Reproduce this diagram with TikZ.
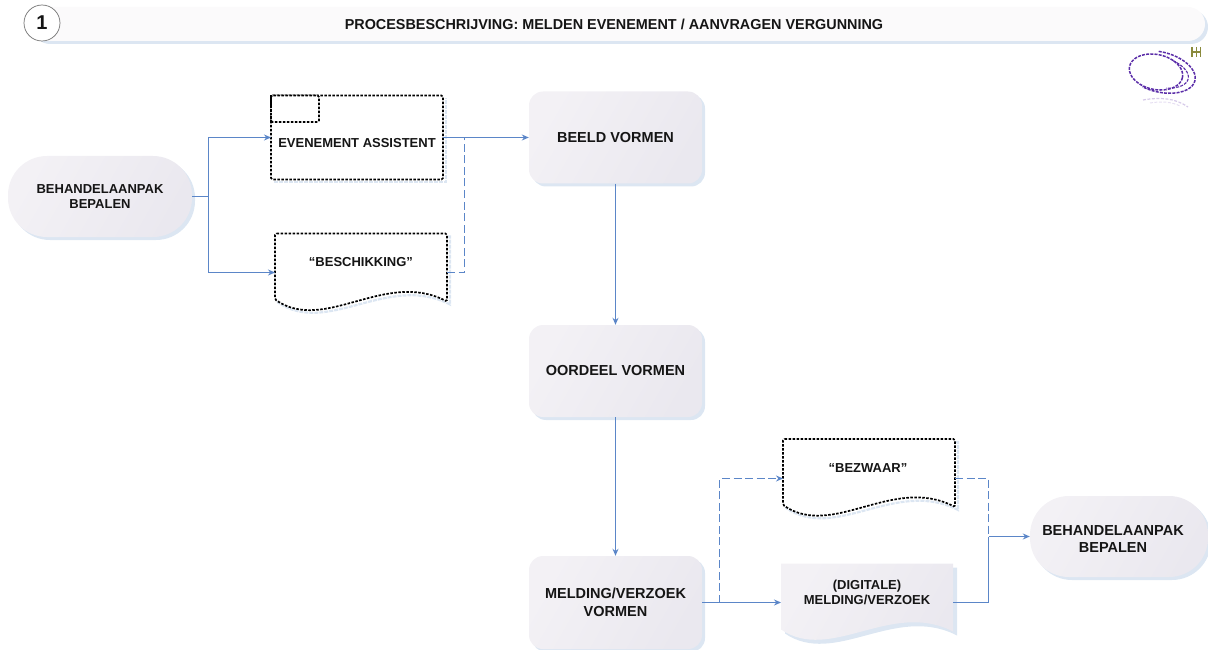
\documentclass[tikz,border=0pt]{standalone}
\usepackage{fontspec}
\setmainfont{Liberation Sans}
\usetikzlibrary{arrows.meta,shadows}
\definecolor{flowblue}{HTML}{5B86C8}
\definecolor{shadowblue}{HTML}{DCE6F2}
\definecolor{boxa}{HTML}{F3F1F5}
\definecolor{boxb}{HTML}{EAE8EF}
\definecolor{inkc}{HTML}{151515}
\definecolor{logoviolet}{HTML}{5A2CA8}
\definecolor{logoolive}{HTML}{8A8A3C}
\newcommand{\wavepath}{(0,0) -- (172,0) -- (172,68) .. controls (110,36) and (50,100) .. (0,66) -- cycle}
\tikzset{
  x=1pt,y=-1pt,
  softshadow/.style={general shadow={fill=shadowblue,shadow xshift=3pt,shadow yshift=-3pt}},
  labeltext/.style={font=\bfseries\fontsize{13}{15.5}\selectfont,text=inkc,align=center,inner sep=0pt},
  bigtext/.style={font=\bfseries\fontsize{14.5}{17.5}\selectfont,text=inkc,align=center},
  procbox/.style={bigtext,softshadow,left color=boxa,right color=boxb,shading angle=60,rounded corners=14pt,minimum width=173pt,minimum height=92pt,inner sep=0pt},
  pillbox/.style={procbox,rounded corners=39pt},
  anchorbox/.style={minimum width=172pt,inner sep=0pt,outer sep=0pt},
  dotline/.style={draw=black,line width=1.7pt,dash pattern=on 2.5pt off 1.5pt,fill=white},
  dotshade/.style={draw=shadowblue,line width=2.2pt,dash pattern=on 4pt off 1pt},
  flow/.style={draw=flowblue,line width=1.5pt},
  flowarrow/.style={flow,-{Stealth[length=7pt,width=6pt]}},
  flowdash/.style={draw=flowblue,line width=1.3pt,dash pattern=on 8pt off 3.5pt},
  flowdasharrow/.style={flowdash,-{Stealth[length=7pt,width=6pt]}},
  logoring/.style={draw=logoviolet,line width=1.5pt,dash pattern=on 3pt off 1.2pt},
}
\begin{document}
\begin{tikzpicture}
\clip (0,0) rectangle (1208,650);
% header
\node[softshadow,draw=none,minimum width=1175pt,minimum height=34pt,rounded corners=17pt,inner sep=0pt,left color=boxa!35,right color=boxa!35] (bar) at (617.5,24) {};
\node[font=\bfseries\fontsize{14.4}{16}\selectfont,text=inkc,inner sep=0pt] (title) at (614,24) {PROCESBESCHRIJVING: MELDEN EVENEMENT / AANVRAGEN VERGUNNING};
\node[circle,draw=black!55,line width=0.7pt,fill=white,minimum size=36pt,inner sep=0pt,text=inkc,font=\bfseries\fontsize{20}{22}\selectfont] (num) at (42,23) {1};

% process nodes
\node[pillbox,labeltext,minimum width=184pt,minimum height=81pt] (start) at (100,196.5) {BEHANDELAANPAK\\BEPALEN};
\node[procbox] (beeld) at (615.5,137.5) {BEELD VORMEN};
\node[procbox] (oordeel) at (615.5,371) {OORDEEL VORMEN};
\node[procbox,minimum height=93pt] (melding) at (615.5,602.5) {MELDING/VERZOEK\\VORMEN};
\node[pillbox,minimum width=178pt,minimum height=81pt] (einde) at (1119,536.5) {};
\node[bigtext,inner sep=0pt] (eindetxt) at (1113,539) {BEHANDELAANPAK\\BEPALEN};

% Evenement assistent
\node[anchorbox,minimum height=84pt] (even) at (357,137.5) {};
\draw[dotshade] (274,182) -- (446,182) -- (446,98);
\draw[dotline,rounded corners=1.5pt] (even.north west) rectangle (even.south east);
\draw[dotline,rounded corners=1.5pt] (even.north west) rectangle (319,122);
\draw[black,line width=2.4pt,dash pattern=on 2.5pt off 1pt] (even.north west) -- (271,122);
\node[labeltext] (eventxt) at (357,143) {EVENEMENT ASSISTENT};

% Beschikking
\node[anchorbox,minimum height=78pt] (besch) at (361,272.5) {};
\begin{scope}[shift={(besch.north west)}]
\draw[dotshade,shift={(3,3)}] \wavepath;
\draw[dotline,rounded corners=1.5pt] \wavepath;
\end{scope}
\node[labeltext] (beschtxt) at (361,262) {“BESCHIKKING”};

% Bezwaar
\node[anchorbox,minimum height=79pt] (bezw) at (869,478.5) {};
\begin{scope}[shift={(bezw.north west)}]
\draw[dotshade,shift={(3,3)}] \wavepath;
\draw[dotline,rounded corners=1.5pt] \wavepath;
\end{scope}
\node[labeltext] (bezwtxt) at (868,468) {“BEZWAAR”};

% Digitale melding
\node[anchorbox,minimum height=78pt] (digi) at (867,602.5) {};
\begin{scope}[shift={(digi.north west)}]
\fill[shadowblue,shift={(4,4)}] \wavepath;
\shade[left color=boxa,right color=boxb,shading angle=60] \wavepath;
\end{scope}
\node[labeltext] (digitxt) at (867,592.5) {(DIGITALE)\\MELDING/VERZOEK};

% connectors
\coordinate (splitA) at (208.5,196.5);
\coordinate (joinA) at (464.5,137.5);
\coordinate (splitB) at (719.5,602.5);
\coordinate (joinB) at (988.5,536.5);
\draw[flow] (start.east) -- (splitA);
\draw[flowarrow] (splitA) |- (even.west);
\draw[flowarrow] (splitA) |- (besch.west);
\draw[flowarrow] (even.east) -- (beeld.west);
\draw[flowdash] (besch.east) -| (joinA);
\draw[flowarrow] (beeld.south) -- (oordeel.north);
\draw[flowarrow] (oordeel.south) -- (melding.north);
\draw[flowarrow] (melding.east) -- (digi.west);
\draw[flowdasharrow] (splitB) |- (bezw.west);
\draw[flowdash] (bezw.east) -| (joinB);
\draw[flow] (digi.east) -| (joinB);
\draw[flowarrow] (joinB) -- (einde.west);

% logo
\draw[logoring] plot[smooth,domain=0:360,samples=50] ({1156+27*cos(\x)*cos(12)-17.5*sin(\x)*sin(12)},{72+27*cos(\x)*sin(12)+17.5*sin(\x)*cos(12)});
\draw[logoring] plot[smooth,domain=-100:112,samples=30] ({1160+36*cos(\x)*cos(14)-20*sin(\x)*sin(14)},{72+36*cos(\x)*sin(14)+20*sin(\x)*cos(14)});
\draw[logoring,line width=1.1pt] plot[smooth,domain=-70:70,samples=20] ({1160+29*cos(\x)*cos(14)-15*sin(\x)*sin(14)},{72+29*cos(\x)*sin(14)+15*sin(\x)*cos(14)});
\draw[logoviolet!25,line width=1.2pt,dash pattern=on 3pt off 1.5pt] (1143,100) .. controls (1160,97) and (1175,98) .. (1188,107);
\draw[logoviolet!15,line width=1pt,dash pattern=on 3pt off 1.5pt] (1150,103) .. controls (1162,101) and (1172,102) .. (1180,106);
\draw[logoolive,line width=1.3pt] (1192,47) -- (1192,57) (1196.5,47) -- (1196.5,57) (1200.5,47) -- (1200.5,57) (1192,52) -- (1200.5,52);
\end{tikzpicture}
\end{document}
